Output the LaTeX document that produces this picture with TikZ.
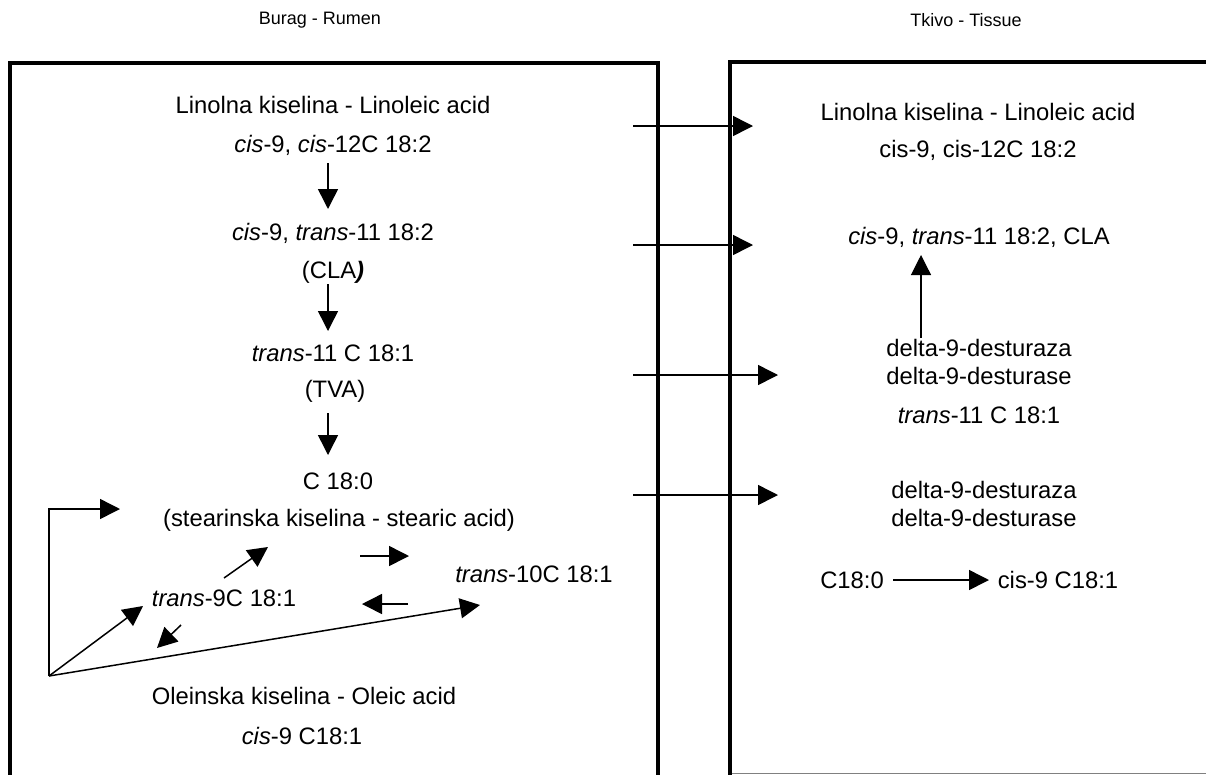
\documentclass[tikz,border=0pt]{standalone}
\usepackage{fontspec}
\setmainfont{Liberation Sans}
\usetikzlibrary{arrows.meta}
\begin{document}
\begin{tikzpicture}[x=1pt,y=-1pt,
  lbl/.style={inner sep=0pt,font=\fontsize{23.8}{28}\selectfont},
  head/.style={inner sep=0pt,font=\fontsize{18}{22}\selectfont},
  arr/.style={line width=1.5pt,-{Triangle[length=20pt,width=20pt]}},
  plain/.style={line width=1.5pt},
  frame/.style={line width=4pt}]
\useasboundingbox (0,0) rectangle (1206,774);
% frames
\draw[frame] (10,776) -- (10,63) -- (658,63) -- (658,776);
\draw[frame] (730,776) -- (730,62) -- (1210,62);
\draw[line width=1pt,gray] (732,773) -- (1206,773);
% headings
\node[head] (hl) at (320,20) {Burag - Rumen};
\node[head] (hr) at (966,20) {Tkivo - Tissue};
% left column
\node[lbl] (l1) at (333,105) {Linolna kiselina - Linoleic acid};
\node[lbl] (l2) at (333,145) {\textit{cis}-9, \textit{cis}-12C 18:2};
\node[lbl] (l3) at (333,233) {\textit{cis}-9, \textit{trans}-11 18:2};
\node[lbl] (l4) at (333,272) {(CLA\textbf{\textit{)}}};
\node[lbl] (l5) at (333,353) {\textit{trans}-11 C 18:1};
\node[lbl] (l6) at (335,391) {(TVA)};
\node[lbl] (l7) at (338,481) {C 18:0};
\node[lbl] (l8) at (339,520) {(stearinska kiselina - stearic acid)};
\node[lbl] (t9) at (224,598) {\textit{trans}-9C 18:1};
\node[lbl] (t10) at (534,574) {\textit{trans}-10C 18:1};
\node[lbl] (ol) at (304,696) {Oleinska kiselina - Oleic acid};
\node[lbl] (ol2) at (302,736) {\textit{cis}-9 C18:1};
% right column
\node[lbl] (r1) at (978,112) {Linolna kiselina - Linoleic acid};
\node[lbl] (r2) at (978,150) {cis-9, cis-12C 18:2};
\node[lbl] (r3) at (979,237) {\textit{cis}-9, \textit{trans}-11 18:2, CLA};
\node[lbl] (r4) at (979,348) {delta-9-desturaza};
\node[lbl] (r5) at (979,376) {delta-9-desturase};
\node[lbl] (r6) at (979,415) {\textit{trans}-11 C 18:1};
\node[lbl] (r7) at (984,490) {delta-9-desturaza};
\node[lbl] (r8) at (984,518) {delta-9-desturase};
\node[lbl] (c180) at (852,580) {C18:0};
\node[lbl] (c181) at (1058,580) {cis-9 C18:1};
% arrow end points
\coordinate (a1s) at (328,163); \coordinate (a1e) at (328,209);
\coordinate (a2s) at (328,284); \coordinate (a2e) at (328,331);
\coordinate (a3s) at (328,413); \coordinate (a3e) at (328,455);
\coordinate (o) at (49,676);
\coordinate (bk) at (49,509); \coordinate (bke) at (120,509);
\coordinate (t9e) at (143,606);
\coordinate (t10e) at (480,605);
\coordinate (sm1s) at (181,625); \coordinate (sm1e) at (157,648);
\coordinate (up1s) at (224,578); \coordinate (up1e) at (268,547);
\coordinate (rt1s) at (360,556); \coordinate (rt1e) at (409,556);
\coordinate (lt1s) at (408,604); \coordinate (lt1e) at (362,604);
\coordinate (x1s) at (633,126); \coordinate (x1e) at (753,126);
\coordinate (x2s) at (633,245); \coordinate (x2e) at (753,245);
\coordinate (x3s) at (633,375); \coordinate (x3e) at (778,375);
\coordinate (x4s) at (633,495); \coordinate (x4e) at (778,495);
\coordinate (vs) at (921,338); \coordinate (ve) at (921,255);
\coordinate (hs) at (893,580); \coordinate (he) at (989,580);
% arrows left
\draw[arr] (a1s) -- (a1e);
\draw[arr] (a2s) -- (a2e);
\draw[arr] (a3s) -- (a3e);
\draw[arr] (o) -- (bk) -- (bke);
\draw[arr] (o) -- (t9e);
\draw[arr] (o) -- (t10e);
\draw[arr] (sm1s) -- (sm1e);
\draw[arr] (up1s) -- (up1e);
\draw[arr] (rt1s) -- (rt1e);
\draw[arr] (lt1s) -- (lt1e);
% arrows across
\draw[arr] (x1s) -- (x1e);
\draw[arr] (x2s) -- (x2e);
\draw[arr] (x3s) -- (x3e);
\draw[arr] (x4s) -- (x4e);
% arrows right
\draw[arr,line width=1.2pt] (vs) -- (ve);
\draw[arr] (hs) -- (he);
\end{tikzpicture}
\end{document}
